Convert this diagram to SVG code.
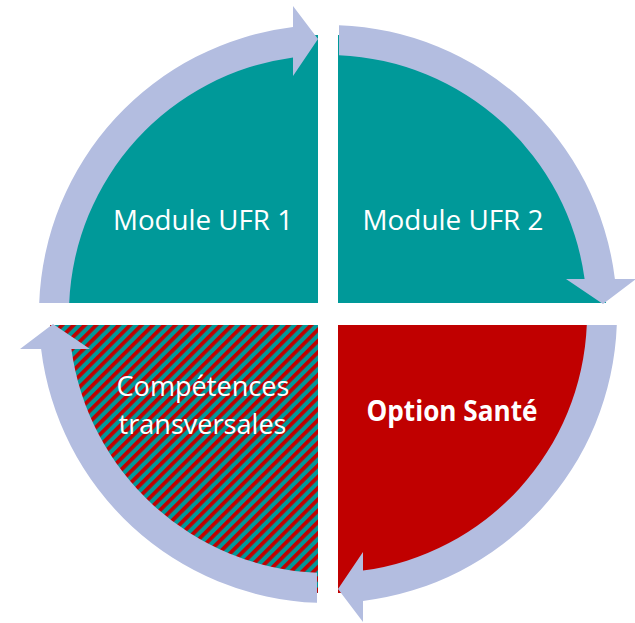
<svg xmlns="http://www.w3.org/2000/svg" width="635" height="623" viewBox="0 0 635 623">
  <defs>
    <pattern id="hatch" patternUnits="userSpaceOnUse" width="8" height="8" patternTransform="rotate(45)">
      <rect x="0" y="0" width="8" height="8" fill="#009999"/>
      <rect x="0" y="0" width="3.8" height="8" fill="#C00000"/>
    </pattern>
    <path id="arrowShape" d="M 69.2 303 L 39.2 303 A 289 289 0 0 1 293 27.1 L 293 6 L 318 39 L 293 76 L 293 57.4 A 259 259 0 0 0 69.2 303 Z"/>
  </defs>
  <style>
    .teal { fill: #009999; }
    .red { fill: #C00000; }
    .hatch { fill: url(#hatch); }
    .arrow { fill: #B3BDE0; }
    .lbl { font-family: "Open Sans", "Noto Sans", "Liberation Sans", sans-serif; font-size: 28px; fill: #FFFFFF; text-anchor: middle; }
    .bold { font-weight: bold; }
  </style>
  <rect width="635" height="623" fill="#FFFFFF"/>
  <g id="node-ufr1">
    <path class="teal" d="M 318 303 L 50 303 A 268 268 0 0 1 318 35 Z"/>
    <text class="lbl" x="203" y="230" textLength="180" lengthAdjust="spacingAndGlyphs">Module UFR 1</text>
  </g>
  <g id="node-ufr2">
    <path class="teal" d="M 338 303 L 338 35 A 268 268 0 0 1 606 303 Z"/>
    <text class="lbl" x="453" y="230" textLength="181" lengthAdjust="spacingAndGlyphs">Module UFR 2</text>
  </g>
  <g id="node-sante">
    <path class="red" d="M 338 325 L 606 325 A 268 268 0 0 1 338 593 Z"/>
    <text class="lbl bold" x="452" y="421" font-size="27" textLength="171" lengthAdjust="spacingAndGlyphs">Option Santé</text>
  </g>
  <g id="node-competences">
    <path class="hatch" d="M 318 325 L 318 593 A 268 268 0 0 1 50 325 Z"/>
    <text class="lbl" x="203" y="396" font-size="25" textLength="173" lengthAdjust="spacingAndGlyphs">Compétences</text>
    <text class="lbl" x="202.5" y="434" font-size="25" textLength="168" lengthAdjust="spacingAndGlyphs">transversales</text>
  </g>
  <g id="connectors">
    <use href="#arrowShape" class="arrow"/>
    <use href="#arrowShape" class="arrow" transform="rotate(90 328 314)"/>
    <use href="#arrowShape" class="arrow" transform="rotate(180 328 314)"/>
    <use href="#arrowShape" class="arrow" transform="rotate(270 328 314)"/>
  </g>
</svg>
